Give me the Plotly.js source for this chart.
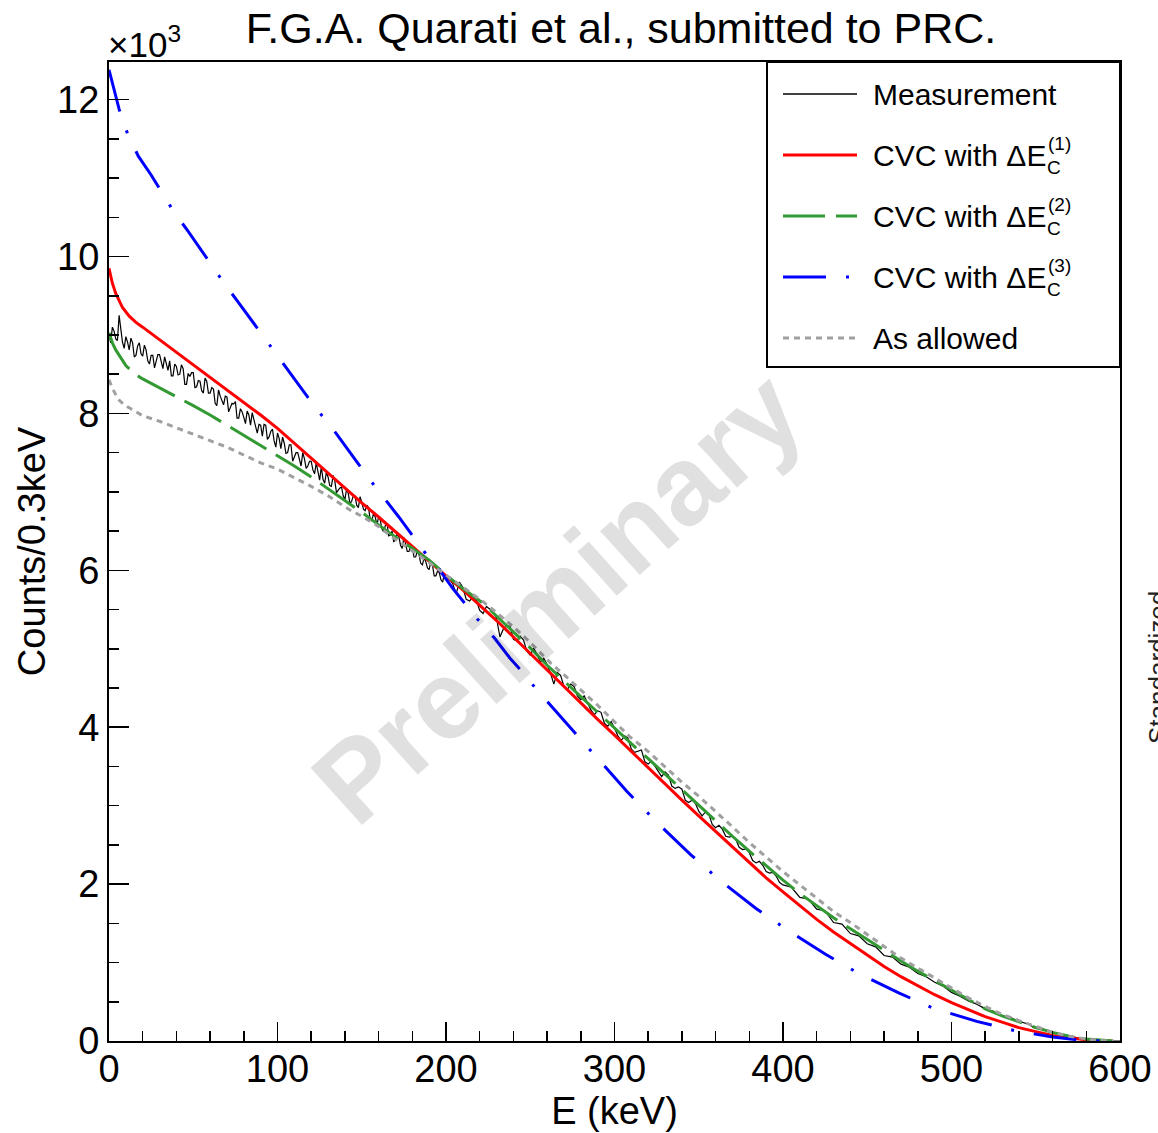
<!DOCTYPE html>
<html><head><meta charset="utf-8">
<script src="https://cdn.plot.ly/plotly-3.0.1.min.js"></script>
<style>html,body{margin:0;padding:0;background:#fff}#chart{width:1158px;height:1133px}</style>
</head><body><div id="chart"></div>
<script>
// ---- data (counts in units of 10^3 per 0.3 keV) ----
const energyMeas = [
0,1,2,3,4,5,6,7,8,9,10,11,12,13,14,15,16,17,18,19,
20,21,22,23,24,25,26,27,28,29,30,31,32,33,34,35,36,37,38,39,
40,41,42,43,44,45,46,47,48,49,50,51,52,53,54,55,56,57,58,59,
60,61,62,63,64,65,66,67,68,69,70,71,72,73,74,75,76,77,78,79,
80,81,82,83,84,85,86,87,88,89,90,91,92,93,94,95,96,97,98,99,
100,101,102,103,104,105,106,107,108,109,110,111,112,113,114,115,116,117,118,119,
120,121,122,123,124,125,126,127,128,129,130,131,132,133,134,135,136,137,138,139,
140,141,142,143,144,145,146,147,148,149,150,151,152,153,154,155,156,157,158,159,
160,161,162,163,164,165,166,167,168,169,170,171,172,173,174,175,176,177,178,179,
180,181,182,183,184,185,186,187,188,189,190,191,192,193,194,195,196,197,198,199,
200,
202,204,206,208,210,212,214,216,218,220,222,224,226,228,230,232,234,236,238,240,
242,244,246,248,250,252,254,256,258,260,262,264,266,268,270,272,274,276,278,280,
282,284,286,288,290,292,294,296,298,300,302,304,306,308,310,312,314,316,318,320,
322,324,326,328,330,332,334,336,338,340,342,344,346,348,350,352,354,356,358,360,
362,364,366,368,370,372,374,376,378,380,382,384,386,388,390,392,394,396,398,400,
405,410,415,420,425,430,435,440,445,450,455,460,465,470,475,480,485,490,495,500,
505,510,515,520,525,530,535,540,545,550,555,560,565,570,575,580,585,590,595,600];
const countsMeas = [
9.02,8.90,9.10,9.05,8.95,8.93,9.25,9.08,8.91,8.83,8.98,8.91,8.81,8.96,8.90,8.72,8.74,8.86,8.90,8.76,
8.73,8.87,8.81,8.67,8.63,8.74,8.74,8.58,8.66,8.75,8.75,8.64,8.57,8.72,8.65,8.55,8.67,8.48,8.48,8.63,
8.60,8.49,8.50,8.62,8.57,8.37,8.37,8.51,8.47,8.52,8.52,8.33,8.34,8.42,8.41,8.29,8.26,8.45,8.41,8.26,
8.26,8.33,8.31,8.13,8.10,8.30,8.22,8.16,8.11,8.22,8.21,8.02,8.07,8.13,8.12,8.15,7.94,7.94,8.06,8.02,
7.95,7.87,8.03,7.98,7.85,8.01,7.92,7.81,7.75,7.86,7.85,7.71,7.86,7.85,7.67,7.70,7.77,7.80,7.65,7.57,
7.75,7.68,7.55,7.70,7.62,7.49,7.50,7.60,7.60,7.39,7.45,7.50,7.50,7.39,7.33,7.50,7.42,7.30,7.33,7.39,
7.39,7.28,7.23,7.37,7.28,7.15,7.32,7.16,7.11,7.25,7.19,7.08,7.07,7.21,7.14,6.99,7.02,7.05,7.06,6.95,
6.90,7.04,6.98,6.85,6.88,6.95,6.95,6.83,6.80,6.94,6.87,6.78,6.76,6.83,6.80,6.65,6.63,6.73,6.68,6.58,
6.68,6.64,6.53,6.49,6.57,6.60,6.44,6.45,6.50,6.36,6.40,6.46,6.43,6.32,6.28,6.42,6.34,6.24,6.24,6.30,
6.29,6.17,6.17,6.25,6.20,6.09,6.07,6.16,6.11,6.03,6.01,6.11,6.06,5.93,5.93,5.99,5.97,5.88,5.85,5.95,
5.91,
5.89,5.83,5.70,5.85,5.78,5.63,5.61,5.66,5.62,5.49,5.45,5.54,5.50,5.47,5.39,5.15,5.25,5.29,5.29,5.12,
5.10,5.16,5.11,4.97,4.92,5.01,4.93,4.83,4.88,4.80,4.69,4.55,4.70,4.66,4.52,4.48,4.55,4.52,4.40,4.35,
4.40,4.31,4.22,4.16,4.21,4.19,4.05,4.01,4.07,3.99,3.89,3.83,3.89,3.86,3.72,3.68,3.70,3.71,3.56,3.53,
3.57,3.50,3.43,3.37,3.43,3.39,3.25,3.22,3.24,3.21,3.07,3.04,3.07,3.03,2.93,2.87,2.92,2.89,2.76,2.72,
2.75,2.70,2.61,2.60,2.61,2.57,2.47,2.44,2.45,2.40,2.30,2.27,2.29,2.24,2.16,2.14,2.15,2.10,2.02,1.99,
1.96,1.83,1.81,1.68,1.66,1.51,1.49,1.37,1.34,1.24,1.20,1.09,1.07,0.98,0.94,0.86,0.82,0.75,0.70,0.62,
0.57,0.51,0.47,0.41,0.38,0.32,0.30,0.25,0.22,0.16,0.15,0.11,0.085,0.06,0.04,0.025,0.012,0.005,0.001,0];

const energyCvc1 = [0,2,4,6,8,12,16,20,25,30,40,50,60,70,80,90,100,110,120,130,140,150,160,170,180,190,200,210,220,230,240,250,260,270,280,290,300,310,320,330,340,350,360,370,380,390,400,410,420,430,440,450,460,470,480,490,500,510,520,530,540,550,560,570,580,590,595];
const countsCvc1 = [9.85,9.66,9.53,9.43,9.35,9.24,9.16,9.10,9.02,8.94,8.78,8.62,8.46,8.30,8.15,7.98,7.81,7.62,7.43,7.24,7.04,6.86,6.68,6.49,6.30,6.11,5.93,5.75,5.56,5.36,5.15,4.94,4.72,4.51,4.30,4.10,3.90,3.69,3.49,3.28,3.07,2.87,2.67,2.47,2.27,2.08,1.90,1.72,1.55,1.39,1.24,1.09,0.95,0.82,0.70,0.59,0.49,0.40,0.31,0.24,0.17,0.12,0.07,0.04,0.015,0.003,0];

const energyCvc2 = [0,2,4,6,8,10,13,17,20,30,40,50,60,70,80,90,100,110,120,130,141,150,160,167,180,190,200,210,222,230,240,250,260,270,280,290,300,310,320,330,340,350,360,370,380,390,400,410,420,430,440,450,460,470,480,490,500,510,520,530,540,550,560,570,580,590,596];
const countsCvc2 = [9.03,8.90,8.81,8.74,8.67,8.61,8.55,8.48,8.44,8.33,8.22,8.10,7.98,7.85,7.73,7.60,7.47,7.33,7.19,7.04,6.88,6.74,6.58,6.47,6.28,6.13,5.94,5.77,5.58,5.42,5.22,5.01,4.79,4.59,4.39,4.19,3.98,3.79,3.60,3.40,3.20,3.00,2.81,2.61,2.42,2.23,2.05,1.88,1.72,1.57,1.43,1.29,1.15,1.02,0.89,0.77,0.64,0.52,0.41,0.32,0.24,0.17,0.11,0.06,0.025,0.006,0];

const energyCvc3 = [0,2,4,6,8,11.5,17.4,25,31.3,38.2,47,61,69,77,92,100,108,122,135,155,172,187,196,204,219,229,238,246,253,272,288,307,325,345,363,384,403,425,445,469,489,515,538,560,575,590];
const countsCvc3 = [12.38,12.20,12.03,11.88,11.74,11.54,11.28,11.04,10.82,10.58,10.32,9.88,9.64,9.41,8.97,8.73,8.49,8.09,7.74,7.15,6.68,6.24,6.01,5.77,5.37,5.13,4.88,4.69,4.50,4.04,3.65,3.19,2.79,2.38,2.04,1.69,1.41,1.11,0.86,0.61,0.42,0.25,0.13,0.05,0.015,0];

const energyAllowed = [0,2,4,6,9,14,20,30,40,50,60,70,80,90,100,113,120,130,143,150,160,167,180,190,200,210,222,230,240,250,262,270,280,290,300,309,320,330,340,350,360,370,380,390,400,410,420,430,440,450,460,469,480,490,500,510,520,530,540,550,560,570,580,590,596];
const countsAllowed = [8.43,8.32,8.24,8.17,8.11,8.05,7.97,7.90,7.82,7.74,7.65,7.57,7.47,7.37,7.29,7.15,7.07,6.95,6.77,6.69,6.56,6.44,6.25,6.10,5.94,5.79,5.60,5.46,5.28,5.08,4.82,4.67,4.48,4.28,4.07,3.88,3.69,3.49,3.30,3.12,2.93,2.73,2.53,2.34,2.16,1.99,1.82,1.65,1.51,1.36,1.21,1.07,0.93,0.80,0.67,0.55,0.44,0.34,0.26,0.18,0.11,0.06,0.025,0.005,0];

const seriesNames = ['Measurement','CVC with ΔE','CVC with ΔE','CVC with ΔE','As allowed'];
const seriesSup = ['', '(1)', '(2)', '(3)', ''];
const xTickVals = [0,100,200,300,400,500,600];
const yTickVals = [0,2,4,6,8,10,12];

// ---- geometry (pixels) ----
const W = 1158, H = 1133, PL = 109, PR = 1120, PT = 62, PB = 1041;
const px = p => (p - PL) / (PR - PL);
const py = p => (PB - p) / (PB - PT);
const FONT = 'Liberation Sans, Arial, Helvetica, sans-serif';

const styles = [
  {color:'#000000', width:1.2, dash:'solid'},
  {color:'#ff0000', width:3, dash:'solid'},
  {color:'#339933', width:3, dash:'42px,11px'},
  {color:'#0000ff', width:3, dash:'43px,20px,3px,20px'},
  {color:'#a0a0a0', width:3, dash:'6px,5px'}
];

const xs = [energyMeas, energyCvc1, energyCvc2, energyCvc3, energyAllowed];
const ys = [countsMeas, countsCvc1, countsCvc2, countsCvc3, countsAllowed];

const traces = xs.map((x, i) => ({
  x: x, y: ys[i], type: 'scatter', mode: 'lines',
  name: seriesNames[i] + (seriesSup[i] ? ' ' + seriesSup[i] : ''),
  line: {color: styles[i].color, width: styles[i].width, dash: styles[i].dash},
  showlegend: false, hoverinfo: 'x+y'
}));

// ---- custom legend (ROOT style box) ----
const rowY = [94, 155, 216, 277, 338];
const shapes = [{
  type:'rect', xref:'paper', yref:'paper', x0:px(767), x1:px(1120), y0:py(367), y1:py(62),
  line:{color:'black', width:2}, fillcolor:'white', layer:'above'
}];
const annotations = [];
rowY.forEach((yy, i) => {
  shapes.push({type:'line', xref:'paper', yref:'paper', x0:px(783), x1:px(857), y0:py(yy), y1:py(yy),
    line:{color:styles[i].color, width: i===0 ? 1.5 : 3, dash: styles[i].dash}, layer:'above'});
  annotations.push({xref:'paper', yref:'paper', x:px(871), y:py(yy), xanchor:'left', yanchor:'middle',
    text: seriesNames[i], showarrow:false, font:{family:FONT, size:30, color:'black'}});
  if (seriesSup[i]) {
    annotations.push({xref:'paper', yref:'paper', x:px(1046), y:py(yy-12), xanchor:'left', yanchor:'middle',
      text: seriesSup[i], showarrow:false, font:{family:FONT, size:19, color:'black'}});
    annotations.push({xref:'paper', yref:'paper', x:px(1045), y:py(yy+12), xanchor:'left', yanchor:'middle',
      text: 'C', showarrow:false, font:{family:FONT, size:19, color:'black'}});
  }
});

// exponent label
annotations.push({xref:'paper', yref:'paper', x:px(106), y:py(66), xanchor:'left', yanchor:'bottom',
  text:'×10<sup>3</sup>', showarrow:false, font:{family:FONT, size:35, color:'black'}});
// watermark
annotations.push({xref:'paper', yref:'paper', x:px(557), y:py(597), xanchor:'center', yanchor:'middle',
  text:'<b>Preliminary</b>', textangle:-42, showarrow:false,
  font:{family:FONT, size:112, color:'rgba(0,0,0,0.12)'}});
// side text of the neighbouring pad (cut by the right edge, as in the original)
annotations.push({xref:'paper', yref:'paper', x:px(1158), y:py(668), xanchor:'center', yanchor:'middle',
  text:'Standardized', textangle:-90, showarrow:false, font:{family:FONT, size:26, color:'#222'}});

const axisCommon = {
  showline:true, linewidth:2, linecolor:'black', mirror:true,
  showgrid:false, zeroline:false, ticks:'inside', tickcolor:'black', tickwidth:1.5,
  tickfont:{family:FONT, size:38, color:'black'}, automargin:false
};

const layout = {
  width: W, height: H,
  margin: {l: PL, r: W - PR, t: PT, b: H - PB, pad: 0},
  paper_bgcolor:'white', plot_bgcolor:'white',
  font:{family:FONT, color:'black'},
  title:{text:'F.G.A. Quarati et al., submitted to PRC.', font:{family:FONT, size:43, color:'black'},
    xref:'container', yref:'container', x:621/W, xanchor:'center', y:1-28/H, yanchor:'middle'},
  xaxis: Object.assign({}, axisCommon, {
    range:[0,600], tickmode:'array', tickvals:xTickVals, ticklen:19, ticklabelstandoff:-7,
    minor:{dtick:20, tick0:0, ticks:'inside', ticklen:10, tickwidth:1.5, tickcolor:'black', showgrid:false},
    title:{text:'E (keV)', font:{family:FONT, size:38, color:'black'}, standoff:6}
  }),
  yaxis: Object.assign({}, axisCommon, {
    range:[0,12.48], tickmode:'array', tickvals:yTickVals, ticklen:20,
    minor:{dtick:0.5, tick0:0, ticks:'inside', ticklen:10, tickwidth:1.5, tickcolor:'black', showgrid:false},
    title:{text:'Counts/0.3keV', font:{family:FONT, size:38, color:'black'}, standoff:0}
  }),
  shapes: shapes,
  annotations: annotations,
  showlegend:false
};

Plotly.newPlot('chart', traces, layout, {displayModeBar:false, staticPlot:true});
</script>
</body></html>
